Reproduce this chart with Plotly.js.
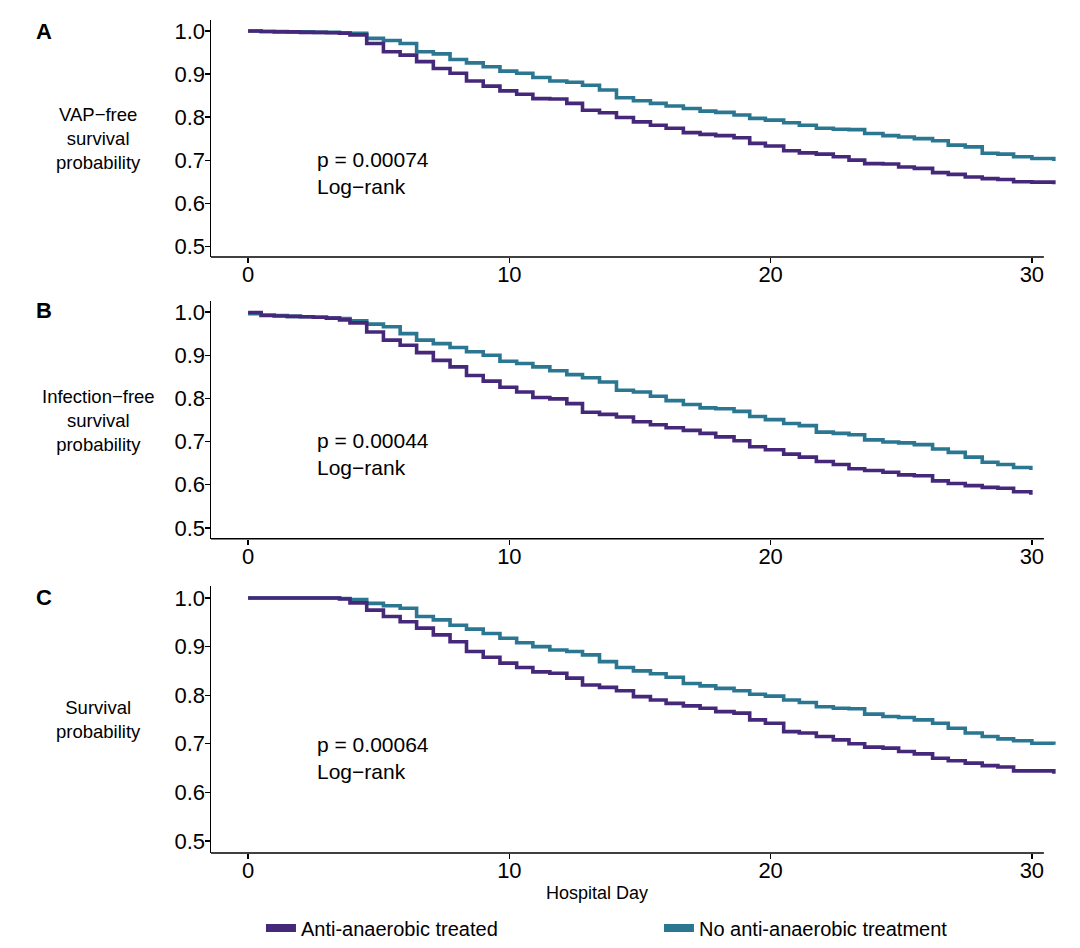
<!DOCTYPE html>
<html>
<head>
<meta charset="utf-8">
<script src="https://cdn.plot.ly/plotly-3.0.1.min.js"></script>
<style>html,body{margin:0;padding:0;background:#fff;}#chart{width:1080px;height:948px;}</style>
</head>
<body>
<div id="chart"></div>
<script>
// ---- data ----
const days = [0, 0.5, 1, 1.5, 2, 2.5, 3, 3.5, 3.9, 4.54, 5.18, 5.82, 6.45, 7.09, 7.73, 8.36, 9.0, 9.64,
  10.28, 10.9, 11.55, 12.2, 12.8, 13.45, 14.1, 14.75, 15.4, 16.0, 16.66, 17.3, 17.9, 18.6, 19.2, 19.8,
  20.5, 21.1, 21.75, 22.4, 23.0, 23.6, 24.3, 24.9, 25.5, 26.2, 26.8, 27.45, 28.1, 28.7, 29.3, 30.0, 30.84];
const daysB = [0, 0.5, 1, 1.5, 2, 2.5, 3, 3.5, 3.9, 4.54, 5.18, 5.82, 6.45, 7.09, 7.73, 8.36, 9.0, 9.64,
  10.28, 10.9, 11.55, 12.2, 12.8, 13.45, 14.1, 14.75, 15.4, 16.0, 16.66, 17.3, 17.9, 18.6, 19.2, 19.8,
  20.5, 21.1, 21.75, 22.4, 23.0, 23.6, 24.3, 24.9, 25.5, 26.2, 26.8, 27.45, 28.1, 28.7, 29.3, 29.96];

const vapTreated = [1.0, 0.999, 0.998, 0.998, 0.997, 0.997, 0.996, 0.995, 0.991, 0.971, 0.952, 0.944, 0.929, 0.913, 0.902, 0.884, 0.872, 0.861,
  0.853, 0.843, 0.842, 0.832, 0.816, 0.810, 0.799, 0.789, 0.781, 0.774, 0.764, 0.760, 0.757, 0.752, 0.739, 0.733,
  0.722, 0.717, 0.714, 0.708, 0.700, 0.692, 0.691, 0.684, 0.681, 0.671, 0.667, 0.661, 0.657, 0.655, 0.650, 0.649, 0.644];
const vapUntreated = [1.0, 0.999, 0.999, 0.998, 0.998, 0.997, 0.997, 0.996, 0.995, 0.983, 0.978, 0.971, 0.952, 0.947, 0.934, 0.926, 0.917, 0.907,
  0.902, 0.892, 0.884, 0.881, 0.874, 0.863, 0.845, 0.838, 0.832, 0.826, 0.820, 0.814, 0.811, 0.805, 0.797, 0.793,
  0.787, 0.781, 0.774, 0.772, 0.771, 0.762, 0.757, 0.754, 0.750, 0.745, 0.735, 0.731, 0.716, 0.714, 0.708, 0.704, 0.698];

const infTreated = [0.999, 0.992, 0.991, 0.990, 0.989, 0.988, 0.986, 0.982, 0.975, 0.954, 0.935, 0.923, 0.906, 0.888, 0.873, 0.853, 0.840, 0.826,
  0.815, 0.802, 0.799, 0.788, 0.768, 0.763, 0.757, 0.746, 0.739, 0.732, 0.726, 0.719, 0.711, 0.702, 0.688, 0.681,
  0.671, 0.664, 0.654, 0.647, 0.637, 0.633, 0.629, 0.623, 0.621, 0.609, 0.603, 0.598, 0.594, 0.592, 0.584, 0.577];
const infUntreated = [0.996, 0.993, 0.992, 0.990, 0.989, 0.988, 0.986, 0.985, 0.980, 0.972, 0.966, 0.950, 0.935, 0.927, 0.918, 0.908, 0.900, 0.886,
  0.881, 0.873, 0.864, 0.855, 0.848, 0.838, 0.819, 0.815, 0.805, 0.795, 0.786, 0.778, 0.776, 0.770, 0.758, 0.751,
  0.742, 0.737, 0.722, 0.719, 0.716, 0.704, 0.699, 0.697, 0.693, 0.683, 0.675, 0.664, 0.652, 0.647, 0.640, 0.634];

const survTreated = [1.0, 1.0, 1.0, 1.0, 1.0, 1.0, 1.0, 0.998, 0.990, 0.975, 0.962, 0.951, 0.938, 0.924, 0.910, 0.890, 0.878, 0.866,
  0.857, 0.848, 0.845, 0.835, 0.821, 0.816, 0.809, 0.797, 0.790, 0.783, 0.778, 0.773, 0.766, 0.763, 0.749, 0.742,
  0.725, 0.722, 0.715, 0.708, 0.700, 0.693, 0.691, 0.684, 0.679, 0.670, 0.665, 0.660, 0.655, 0.652, 0.644, 0.644, 0.638];
const survUntreated = [1.0, 1.0, 1.0, 1.0, 1.0, 1.0, 1.0, 0.999, 0.997, 0.989, 0.984, 0.979, 0.962, 0.955, 0.944, 0.936, 0.927, 0.917,
  0.908, 0.900, 0.893, 0.890, 0.883, 0.869, 0.857, 0.850, 0.844, 0.837, 0.824, 0.819, 0.814, 0.809, 0.802, 0.798,
  0.790, 0.785, 0.776, 0.773, 0.772, 0.761, 0.756, 0.754, 0.749, 0.742, 0.732, 0.722, 0.715, 0.710, 0.706, 0.701, 0.698];

const groupNames = ["Anti-anaerobic treated", "No anti-anaerobic treatment"];
const panelLetters = ["A", "B", "C"];
const yTitles = ["VAP\u2212free<br>survival<br>probability", "Infection\u2212free<br>survival<br>probability", "Survival<br>probability"];
const pValues = ["p = 0.00074", "p = 0.00044", "p = 0.00064"];
const xTicks = [0, 10, 20, 30];
const yTicks = [0.5, 0.6, 0.7, 0.8, 0.9, 1.0];

// ---- styling ----
const FONT = "Liberation Sans, Arial, Helvetica, sans-serif";
const PURPLE = "#46287A";
const TEAL = "#2B7792";
const XR = [-1.42, 31.0];
const XAXIS_END = 30.46;
const YR = [0.475, 1.025];
const domains = [[0.7289, 0.9786], [0.4317, 0.6822], [0.1002, 0.3820]];
const letterY = [0.967, 0.672, 0.370];

const panels = [
  {x: days, t: vapTreated, u: vapUntreated},
  {x: daysB, t: infTreated, u: infUntreated},
  {x: days, t: survTreated, u: survUntreated}
];

const traces = [];
panels.forEach((p, i) => {
  const xa = i === 0 ? "x" : "x" + (i + 1);
  const ya = i === 0 ? "y" : "y" + (i + 1);
  traces.push({x: p.x, y: p.u, xaxis: xa, yaxis: ya, type: "scatter", mode: "lines",
    line: {color: TEAL, width: 3.6, shape: "hv"}, showlegend: false, hoverinfo: "skip"});
  traces.push({x: p.x, y: p.t, xaxis: xa, yaxis: ya, type: "scatter", mode: "lines",
    line: {color: PURPLE, width: 3.6, shape: "hv"}, showlegend: false, hoverinfo: "skip"});
});
// legend entries
traces.push({x: [null], y: [null], type: "scatter", mode: "lines", name: groupNames[0],
  line: {color: PURPLE, width: 8}, xaxis: "x3", yaxis: "y3"});
traces.push({x: [null], y: [null], type: "scatter", mode: "lines", name: groupNames[1],
  line: {color: TEAL, width: 8}, xaxis: "x3", yaxis: "y3"});

const layout = {
  width: 1080, height: 948,
  margin: {l: 211, r: 22, t: 0, b: 0},
  paper_bgcolor: "#fff", plot_bgcolor: "#fff",
  font: {family: FONT, color: "#000", size: 18},
  showlegend: true,
  legend: {orientation: "h", x: 0.059, xanchor: "left", y: 0.021, yanchor: "middle",
    font: {family: FONT, size: 20, color: "#000"}, entrywidth: 353, bgcolor: "rgba(0,0,0,0)"},
  shapes: [],
  annotations: []
};

for (let i = 0; i < 3; i++) {
  const sfx = i === 0 ? "" : String(i + 1);
  layout["xaxis" + sfx] = {
    domain: [0, 1], anchor: "y" + sfx, range: XR, showline: false, showgrid: false, zeroline: false,
    ticks: "outside", ticklen: 5, tickwidth: 1.3, tickcolor: "#000", ticklabelstandoff: -7,
    tickvals: xTicks, ticktext: xTicks.map(String), tickfont: {family: FONT, size: 22, color: "#000"}
  };
  layout["yaxis" + sfx] = {
    domain: domains[i], anchor: "x" + sfx, range: YR, showline: true, linecolor: "#000", linewidth: 1.5,
    showgrid: false, zeroline: false, ticks: "outside", ticklen: 5, tickwidth: 1.3, tickcolor: "#000",
    ticklabelstandoff: -5,
    tickvals: yTicks, ticktext: yTicks.map(v => v.toFixed(1)), tickfont: {family: FONT, size: 22, color: "#000"}
  };
  layout.shapes.push({type: "line", xref: "x" + sfx, yref: "y" + sfx + " domain",
    x0: XR[0], x1: XAXIS_END, y0: 0, y1: 0, line: {color: "#000", width: 1.5}});
  layout.annotations.push({xref: "paper", yref: "paper", x: -0.197, y: letterY[i], xanchor: "center", yanchor: "middle",
    text: "<b>" + panelLetters[i] + "</b>", showarrow: false, font: {family: FONT, size: 22, color: "#000"}});
  layout.annotations.push({xref: "paper", yref: "y" + sfx + " domain", x: -0.1334, y: 0.5, xanchor: "center", yanchor: "middle",
    text: yTitles[i], align: "center", showarrow: false, font: {family: FONT, size: 18.5, color: "#000"}});
  layout.annotations.push({xref: "x" + sfx, yref: "y" + sfx, x: 2.56, y: 0.671, xanchor: "left", yanchor: "middle",
    text: pValues[i] + "<br>Log\u2212rank", align: "left", showarrow: false, font: {family: FONT, size: 21, color: "#000"}});
}
layout.annotations.push({xref: "paper", yref: "paper", x: 0.4557, y: 0.058, xanchor: "center", yanchor: "middle",
  text: "Hospital Day", showarrow: false, font: {family: FONT, size: 18, color: "#000"}});

Plotly.newPlot("chart", traces, layout, {displayModeBar: false, staticPlot: true});
</script>
</body>
</html>
